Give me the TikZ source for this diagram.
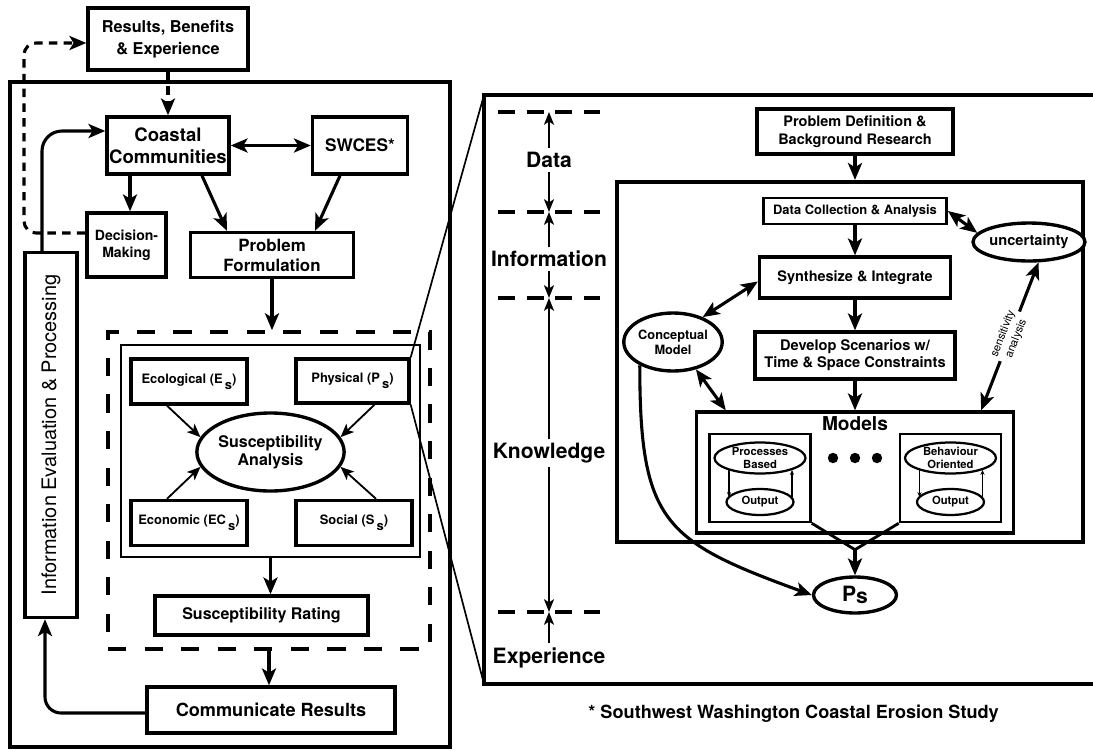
\documentclass[tikz,border=0pt]{standalone}
\usepackage{fontspec}
\setmainfont{TeX Gyre Heros}
\usepackage{tikz}
\usetikzlibrary{shapes.geometric, arrows, arrows.meta}
% bold Helvetica-like text at a given size
\newcommand{\hvb}[2]{\fontsize{#1}{#2}\selectfont\bfseries}
\tikzstyle{block} = [rectangle, 
draw=black, 
line width=2.4pt, 
align=center, 
inner sep=1pt]
\tikzstyle{factor} = [block, 
minimum width=2.9cm, 
minimum height=1.125cm, 
font=\hvb{9.2}{11}]
\tikzstyle{oval} = [ellipse, 
draw=black, 
line width=2.4pt, 
fill=white, 
align=center, 
inner sep=0pt]
\tikzstyle{subbox} = [rectangle, 
draw=black, 
line width=1.8pt, 
minimum width=2.525cm, 
minimum height=2.2cm]
\tikzstyle{subellipse} = [ellipse, 
draw=black, 
line width=1.6pt, 
inner sep=0pt, 
align=center, 
font=\hvb{8}{9}]
\tikzstyle{tier} = [font=\hvb{15}{18}, inner sep=3pt]
\tikzstyle{panel} = [line width=3.2pt]
\tikzstyle{dashframe} = [rectangle, draw=black, line width=2.6pt, dash pattern=on 13pt off 13pt]
\tikzstyle{thinframe} = [rectangle, draw=black, line width=1pt]
\tikzstyle{tierline} = [line width=2.4pt, dash pattern=on 0.425cm off 0.2875cm]
\tikzstyle{link} = [line width=1.2pt]
\tikzstyle{arrow} = [line width=2.2pt,->,>={Stealth[length=12pt,width=10pt,inset=3pt]}]
\tikzstyle{thinarrow} = [line width=1.3pt,->,>={Stealth[length=9.5pt,width=8pt,inset=2.4pt]}]
\tikzstyle{tierarrow} = [line width=1.7pt,->,>={Stealth[length=9pt,width=7pt,inset=2.2pt]}]
\tikzstyle{tinyarrow} = [line width=0.8pt,->,>={Stealth[length=3.5pt,width=3pt]}]
\tikzstyle{dasharrow} = [arrow, dash pattern=on 6pt off 4.5pt]

\begin{document}
\begin{tikzpicture}[node distance=1cm]
    \useasboundingbox (0,0) rectangle (27.325,-18.75);

    % ---- left panel: susceptibility framework ----
    \draw [panel] (0.25,-2.05) rectangle (11.25,-18.675);

    \node (results) [block, minimum width=4cm, minimum height=1.55cm, font=\hvb{11.6}{15.4}] at (4.2,-0.975) {Results, Benefits\\\& Experience};
    \node (coastal) [block, below of=results, yshift=-1.6625cm, minimum width=3.05cm, minimum height=1.425cm, font=\hvb{13.2}{15.4}] {Coastal\\Communities};
    \node (swces) [block, right of=coastal, xshift=3.8cm, minimum width=2.375cm, minimum height=1.425cm, font=\hvb{12.3}{14}] {SWCES*};
    \node (decision) [block, below of=coastal, xshift=-1.0375cm, yshift=-1.4875cm, minimum width=1.975cm, minimum height=1.6cm, font=\hvb{10}{11.8}] {Decision-\\Making};
    \node (probform) [block, below of=coastal, xshift=2.6cm, yshift=-1.7375cm, minimum width=4.075cm, minimum height=1.125cm, font=\hvb{12}{14.2}] {Problem\\Formulation};

    \node (analysis) [oval, below of=probform, xshift=-0.0375cm, yshift=-3.925cm, minimum width=3.375cm, minimum height=1.95cm, font=\hvb{11.4}{13}] {Susceptibility\\Analysis};
    \node (eco) [factor, left of=analysis, xshift=-1.0375cm, yshift=1.7625cm] {Ecological (E\,\raisebox{-0.8ex}{s})};
    \node (phys) [factor, right of=analysis, xshift=1.05cm, yshift=1.775cm, minimum width=2.825cm, minimum height=1.1cm] {Physical (P\,\raisebox{-0.8ex}{s})};
    \node (econ) [factor, left of=analysis, xshift=-1.0375cm, yshift=-1.775cm] {Economic (EC\,\raisebox{-0.8ex}{s})};
    \node (social) [factor, right of=analysis, xshift=1.0875cm, yshift=-1.775cm] {Social (S\,\raisebox{-0.8ex}{s})};
    \node (factors) [thinframe, above of=analysis, yshift=-0.975cm, minimum width=7.475cm, minimum height=5.3cm] {};
    \node (suscframe) [dashframe, below of=analysis, xshift=-0.0375cm, yshift=0.0375cm, minimum width=8.05cm, minimum height=7.925cm] {};

    \node (rating) [block, below of=analysis, xshift=-0.225cm, yshift=-3.0875cm, minimum width=5.325cm, minimum height=0.975cm, font=\hvb{11.4}{13}] {Susceptibility Rating};
    \node (comm) [block, below of=rating, xshift=0.2375cm, yshift=-1.3625cm, minimum width=6.2cm, minimum height=1.15cm, font=\hvb{12.9}{15}] {Communicate Results};
    \node (iep) [block, rotate=90, minimum width=9.125cm, minimum height=1.3cm, font=\fontsize{14.2}{17}\selectfont] at (1.275,-10.875) {Information Evaluation \& Processing};

    \coordinate (loopx) at (0.6,-5.825);
    \coordinate (cdleft) at ([xshift=-0.95cm]coastal.south);

    \draw [dasharrow] (results) -- (coastal);
    \draw [dasharrow, rounded corners=0.3cm] ([yshift=0.3cm]decision.west) -- (loopx) |- ([yshift=-0.1cm]results.west);
    \draw [arrow, <->] (coastal) -- (swces);
    \draw [arrow] (cdleft) -- (cdleft |- decision.north);
    \draw [arrow] ([xshift=0.85cm]coastal.south) -- ([xshift=-1.125cm]probform.north);
    \draw [arrow] ([xshift=-0.5cm]swces.south) -- ([xshift=1.075cm]probform.north);
    \draw [arrow] (probform.south) -- (probform.south |- suscframe.north);
    \draw [thinarrow] ([xshift=-0.55cm]eco.south) -- (analysis.168);
    \draw [thinarrow] ([xshift=0.55cm]phys.south) -- (analysis.12);
    \draw [thinarrow] ([xshift=-0.55cm]econ.north) -- (analysis.192);
    \draw [thinarrow] ([xshift=0.55cm]social.north) -- (analysis.348);
    \draw [arrow] (factors.south) -- (factors.south |- rating.north);
    \draw [arrow] (suscframe.south) -- (suscframe.south |- comm.north);
    \draw [arrow, rounded corners=0.4cm] ([yshift=-0.075cm]comm.west) -| ([xshift=-0.15cm]iep.west);
    \draw [arrow, rounded corners=0.5cm] ([xshift=-0.225cm]iep.east) |- ([yshift=0.3625cm]coastal.west);

    % ---- right panel: physical susceptibility detail ----
    \coordinate (rptop) at (12.1,-2.375);
    \coordinate (rpbot) at (12.1,-17.1);
    \draw [panel] (27.5,-2.375) -- (rptop) -- (rpbot) -- (27.5,-17.1);
    \draw [link] (phys.north east) -- (rptop);
    \draw [link] (phys.south east) -- (rpbot);

    \coordinate (lvA) at (13.725,-2.8);
    \coordinate (lvB) at (13.725,-5.3);
    \coordinate (lvC) at (13.725,-7.45);
    \coordinate (lvD) at (13.725,-15.3);
    \foreach \lv in {lvA,lvB,lvC,lvD}
        \draw [tierline] ([xshift=-1.275cm]\lv) -- ([xshift=1.275cm]\lv);

    \node (data) [tier] at (13.725,-4) {Data};
    \node (info) [tier, below of=data, yshift=-1.475cm] {Information};
    \node (know) [tier, below of=info, yshift=-3.85cm] {Knowledge};
    \node (exper) [tier, below of=know, yshift=-4.125cm] {Experience};
    \draw [tierarrow] (data) -- (lvA);
    \draw [tierarrow] (data) -- (lvB);
    \draw [tierarrow] (info) -- (lvB);
    \draw [tierarrow] (info) -- (lvC);
    \draw [tierarrow] (know) -- (lvC);
    \draw [tierarrow] (know) -- (lvD);
    \draw [tierarrow] (exper) -- (lvD);

    \node (pdbr) [block, minimum width=4.9cm, minimum height=1.125cm, font=\hvb{10.3}{12.5}] at (21.375,-3.2875) {Problem Definition \&\\Background Research};
    \node (infobox) [block, line width=3pt, below of=pdbr, xshift=-0.125cm, yshift=-4.7625cm, minimum width=11.65cm, minimum height=9cm] {};
    \node (datacoll) [block, line width=2pt, below of=pdbr, yshift=-0.9875cm, minimum width=4.575cm, minimum height=0.65cm, font=\hvb{9.2}{11}] {Data Collection \& Analysis};
    \node (uncert) [oval, right of=datacoll, xshift=3.35cm, yshift=-0.775cm, minimum width=2.3cm, minimum height=0.95cm, font=\hvb{10.4}{12}] {uncertainty};
    \node (synth) [block, below of=datacoll, yshift=-0.6625cm, minimum width=4.775cm, minimum height=1.025cm, font=\hvb{10.3}{12}] {Synthesize \& Integrate};
    \node (develop) [block, below of=synth, yshift=-0.95cm, minimum width=5cm, minimum height=1.175cm, font=\hvb{10.4}{11.9}] {Develop Scenarios w/\\Time \& Space Constraints};
    \node (concept) [oval, left of=develop, xshift=-3.55cm, yshift=0.3375cm, minimum width=2.3cm, minimum height=1.45cm, font=\hvb{9.1}{10.5}] {Conceptual\\Model};
    \node (models) [block, below of=develop, yshift=-1.925cm, minimum width=7.925cm, minimum height=3.025cm] {};
    \node (modtitle) [above of=models, yshift=0.2125cm, font=\hvb{13.6}{15}] {Models};
    \node (procbox) [subbox, left of=models, xshift=-1.375cm, yshift=-0.1375cm] {};
    \node (behbox) [subbox, right of=models, xshift=1.3875cm, yshift=-0.1375cm] {};
    \node (procell) [subellipse, above of=procbox, yshift=-0.5cm, minimum width=2.275cm, minimum height=0.775cm] {Processes\\Based};
    \node (procout) [subellipse, below of=procell, yshift=-0.1cm, minimum width=1.675cm, minimum height=0.65cm] {Output};
    \node (behell) [subellipse, above of=behbox, yshift=-0.5cm, minimum width=2.275cm, minimum height=0.775cm] {Behaviour\\Oriented};
    \node (behout) [subellipse, below of=behell, yshift=-0.1cm, minimum width=1.675cm, minimum height=0.65cm] {Output};
    \node (ps) [oval, below of=models, yshift=-2.0625cm, minimum width=2.075cm, minimum height=0.9cm, font=\hvb{15}{17}] {P\raisebox{-0.12em}{s}};

    \foreach \dx in {-0.55,0,0.55}
        \fill ([xshift=\dx cm, yshift=0.3625cm]models.center) circle (0.13);

    \coordinate (vjoin) at ([yshift=-0.375cm]models.south);

    \draw [arrow] (pdbr.south) -- (pdbr.south |- infobox.north);
    \draw [arrow] (datacoll) -- (synth);
    \draw [arrow, <->] (datacoll.east) -- (uncert.170);
    \draw [arrow] (synth) -- (develop);
    \draw [arrow] (develop) -- (models);
    \draw [arrow, <->] (concept.40) -- ([yshift=-0.1cm]synth.west);
    \draw [arrow, <->] (concept.310) -- ([xshift=0.775cm]models.north west);
    \draw [arrow, <->] ([xshift=-0.85cm]models.north east) -- node[sloped, fill=white, inner sep=1.5pt, font=\fontsize{8}{10}\selectfont, align=center] {sensitivity\\analysis} (uncert.-65);
    \draw [tinyarrow] ([xshift=-0.775cm, yshift=-0.3cm]procell.center) -- ([xshift=-0.775cm, yshift=0.125cm]procout.center);
    \draw [tinyarrow] ([xshift=0.8cm, yshift=0.125cm]procout.center) -- ([xshift=0.8cm, yshift=-0.3cm]procell.center);
    \draw [tinyarrow] ([xshift=-0.775cm, yshift=-0.3cm]behell.center) -- ([xshift=-0.775cm, yshift=0.125cm]behout.center);
    \draw [tinyarrow] ([xshift=0.8cm, yshift=0.125cm]behout.center) -- ([xshift=0.8cm, yshift=-0.3cm]behell.center);
    \draw [line width=2pt] (procbox.south east) -- (vjoin) -- (behbox.south west);
    \draw [arrow] (vjoin) -- (ps);
    \draw [arrow] (concept.215) to [out=-90, in=160, looseness=1.4] (ps.west);

    \node (note) [font=\hvb{12.9}{15}] at (19.84,-17.85) {* Southwest Washington Coastal Erosion Study};

\end{tikzpicture}
\end{document}
